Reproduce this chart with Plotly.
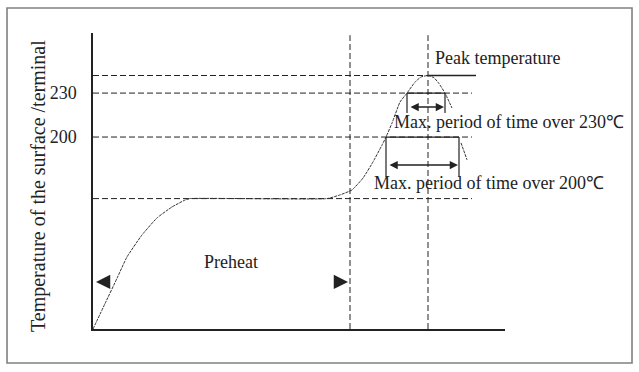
import plotly.graph_objects as go

# ---- data (schematic reflow profile) ----
time_curve = [0, 12, 24, 34, 49, 64, 79, 92, 97, 234, 247, 259, 270, 280, 289, 293,
              299, 307, 314, 322, 328, 335, 341, 346, 352, 359, None, 368, 374]
temp_curve = [69, 86.3, 103.6, 118.2, 133.2, 144.8, 152.3, 157.0, 158, 158, 160.5,
              163.9, 172.0, 183.0, 194.5, 200, 209.5, 223.9, 230, 237.5, 241, 242, 240.5,
              236.5, 230, 219.8, None, 196, 184.5]

tick_vals = [200, 230]
tick_text = ["200", "230"]
preheat_temp = 158
peak_temp = 242
peak_time = 335
preheat_end = 257
span_230 = [314, 352]
span_200 = [293, 366]
ref_end = 379
peak_line_end = 383
ymin, ymax = 69, 271
xmax = 412

FONT = "Liberation Serif"
INK = "#222222"
DASH = "6px,3px"

fig = go.Figure()

def seg(xs, ys, dash="solid", width=1.2, color=INK):
    fig.add_trace(go.Scatter(x=xs, y=ys, mode="lines", hoverinfo="skip", showlegend=False,
                             line=dict(color=color, width=width, dash=dash)))

# dashed reference lines
seg([0, peak_time], [peak_temp, peak_temp], dash=DASH, width=1)
for t in [230, 200, preheat_temp]:
    seg([0, ref_end], [t, t], dash=DASH, width=1)
for x in [preheat_end, peak_time]:
    seg([x, x], [ymin, ymax - 1.5], dash=DASH, width=1)

# solid markers of the spans
seg([peak_time, peak_line_end], [peak_temp, peak_temp], width=1.3)
seg(span_230, [230, 230], width=1.3)
seg(span_200, [200, 200], width=1.3)
for x in span_230:
    seg([x, x], [230, 216.4], width=1.2)
for x in span_200:
    seg([x, x], [200, 172.7], width=1.2)

# profile curve
fig.add_trace(go.Scatter(x=time_curve, y=temp_curve, mode="lines", hoverinfo="skip",
                         showlegend=False, connectgaps=False,
                         line=dict(color="#333333", width=1, dash="3px,1px", shape="spline",
                                   smoothing=0.4)))

anns = []
def arrow(x_tip, x_tail, y, both=False, size=1.1):
    anns.append(dict(x=x_tip, y=y, ax=x_tail, ay=y, xref="x", yref="y", axref="x", ayref="y",
                     text="", showarrow=True, arrowhead=2, arrowsize=size, arrowwidth=1.5,
                     arrowcolor=INK, arrowside="end+start" if both else "end",
                     startarrowhead=2, startarrowsize=size, standoff=0, startstandoff=0))

arrow(span_230[1] - 1, span_230[0] + 2, 220.5, both=True)
arrow(span_200[1] - 1, span_200[0] + 2, 180.9, both=True)
arrow(3, 15, 101.1, size=1.9)
arrow(preheat_end - 2, preheat_end - 14, 101.1, size=1.9)

def text(x, y, s, xanchor="left", size=18, xref="x", yref="y", angle=0):
    anns.append(dict(x=x, y=y, xref=xref, yref=yref, text=s, showarrow=False,
                     xanchor=xanchor, yanchor="middle", textangle=angle,
                     font=dict(family=FONT, size=size, color=INK)))

text(peak_time + 5, 253.9, "Peak temperature")
text(span_200[0] + 6, 210.2, "Max. period of time over 230℃")
text(span_200[0] - 14, 168.6, "Max. period of time over 200℃")
text(138, 114.8, "Preheat", xanchor="center")
text(342, 62.9, "Time(sec.)")
text(-23, 270.9, "(℃)", xanchor="center", size=17)
text(-0.1335, 0.483, "Temperature of the surface /terminal", xanchor="center",
     xref="paper", yref="paper", angle=-90, size=20)

fig.update_layout(
    width=639, height=372,
    margin=dict(l=93, r=134, t=33, b=43),
    paper_bgcolor="white", plot_bgcolor="white",
    annotations=anns,
    shapes=[dict(type="rect", xref="paper", yref="paper",
                 x0=-0.2087, x1=1.3083, y0=-0.1149, y1=1.0845,
                 line=dict(color="#808080", width=1.6), layer="below")],
    xaxis=dict(range=[0, xmax], showgrid=False, zeroline=False, showticklabels=False,
               ticks="", showline=True, linecolor=INK, linewidth=1.5, fixedrange=True),
    yaxis=dict(range=[ymin, ymax], showgrid=False, zeroline=False, tickvals=tick_vals,
               ticktext=tick_text, ticks="", ticklabelstandoff=11, showline=True,
               linecolor=INK, linewidth=1.5, fixedrange=True,
               tickfont=dict(family=FONT, size=18, color=INK)),
)

fig.write_html("out.html", config={"displayModeBar": False},
               post_script="document.body.style.margin='0';")
